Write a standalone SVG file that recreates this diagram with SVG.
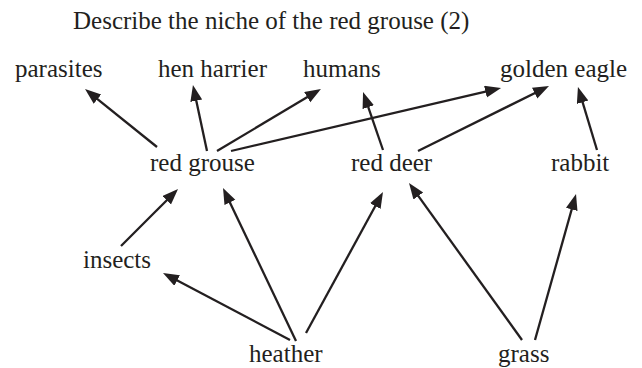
<svg xmlns="http://www.w3.org/2000/svg" width="642" height="368" viewBox="0 0 642 368">
  <style>
    text { font-family: "Liberation Serif", "Times New Roman", serif; font-size: 25px; fill: #231f20; }
    .link { stroke: #231f20; stroke-width: 2.3; fill: none; marker-end: url(#head); }
  </style>
  <defs>
    <marker id="head" markerUnits="userSpaceOnUse" markerWidth="17" markerHeight="13" refX="10" refY="6" orient="auto">
      <path d="M0,0 L16,6 L0,12 z" fill="#231f20"/>
    </marker>
  </defs>

  <rect width="642" height="368" fill="#ffffff"/>

  <text id="title" x="73" y="29">Describe the niche of the red grouse (2)</text>

  <!-- food web links: arrow points from food to feeder -->
  <g id="connectors">
    <line class="link" x1="157" y1="147" x2="89.7" y2="92.8"/>
    <line class="link" x1="207" y1="151" x2="194.2" y2="90.9"/>
    <line class="link" x1="217" y1="151" x2="315.8" y2="92.1"/>
    <line class="link" x1="231" y1="151" x2="495.2" y2="89.4"/>
    <line class="link" x1="383" y1="150" x2="365.0" y2="97.7"/>
    <line class="link" x1="418" y1="151" x2="543.6" y2="88.7"/>
    <line class="link" x1="597" y1="150" x2="579.7" y2="92.7"/>
    <line class="link" x1="121" y1="246" x2="173.8" y2="193.2"/>
    <line class="link" x1="296" y1="341" x2="225.6" y2="193.4"/>
    <line class="link" x1="290" y1="340" x2="168.3" y2="275.8"/>
    <line class="link" x1="306" y1="333" x2="380.1" y2="197.3"/>
    <line class="link" x1="522" y1="340" x2="412.5" y2="187.9"/>
    <line class="link" x1="535" y1="340" x2="574.4" y2="199.8"/>
  </g>

  <g id="parasites"><text x="15" y="77">parasites</text></g>
  <g id="hen-harrier"><text x="158" y="77">hen harrier</text></g>
  <g id="humans"><text x="303" y="77">humans</text></g>
  <g id="golden-eagle"><text x="500" y="77">golden eagle</text></g>
  <g id="red-grouse"><text x="150" y="171">red grouse</text></g>
  <g id="red-deer"><text x="351" y="171">red deer</text></g>
  <g id="rabbit"><text x="551" y="171">rabbit</text></g>
  <g id="insects"><text x="83" y="268">insects</text></g>
  <g id="heather"><text x="249" y="362">heather</text></g>
  <g id="grass"><text x="498" y="362">grass</text></g>
</svg>
